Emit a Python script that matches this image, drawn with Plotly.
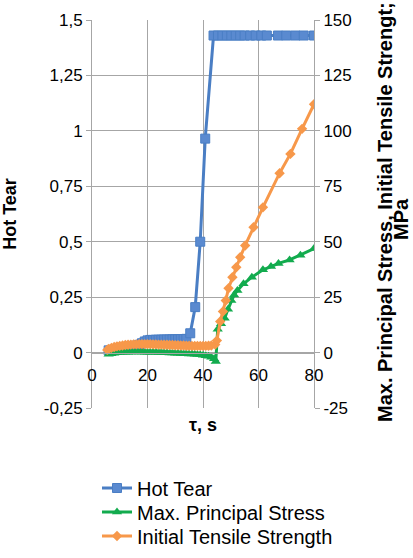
import plotly.graph_objects as go

# ---- data ----
ht_x = [6, 7, 8, 9, 10, 11, 12, 13, 14, 15, 16, 17, 18, 19, 20, 21, 22, 23, 24, 25,
        26, 27, 28, 29, 30, 31, 32, 33, 34, 35.4, 37.2, 39.0, 40.8, 43.8, 45.4, 47.0,
        48.6, 50.2, 51.8, 53.4, 55.0, 57.0, 59.0, 61.0, 63.0, 67.0, 70.0, 73.3, 76.3, 80.0]
ht_y = [0.01, 0.012, 0.014, 0.016, 0.018, 0.02, 0.022, 0.024, 0.026, 0.028, 0.031, 0.035,
        0.042, 0.05, 0.055, 0.057, 0.057, 0.058, 0.058, 0.058, 0.059, 0.059, 0.059, 0.06,
        0.06, 0.06, 0.061, 0.061, 0.062, 0.087, 0.205, 0.5, 0.965, 1.43, 1.43, 1.43, 1.43,
        1.43, 1.43, 1.43, 1.43, 1.43, 1.43, 1.43, 1.43, 1.43, 1.43, 1.43, 1.43, 1.43]

mps_x = [6, 7, 8, 9, 10, 11, 12, 13, 14, 15, 16, 17, 18, 19, 20, 21, 22, 23, 24, 25,
         26, 27, 28, 29, 30, 31, 32, 33, 34, 35, 36, 37, 38, 39, 40, 41, 42, 43, 44,
         44.6, 45.3, 46.5, 47.8, 49.0, 50.2, 51.2, 52.4, 54.6, 57.6, 61.6, 64.5, 67.2,
         71.2, 75.1, 80.0]
mps_y = [-0.8, -0.5, -0.3, -0.1, 0.0, 0.1, 0.2, 0.2, 0.3, 0.3, 0.3, 0.3, 0.3, 0.2, 0.2,
         0.2, 0.1, 0.1, 0.0, 0.0, -0.1, -0.1, -0.2, -0.2, -0.3, -0.3, -0.4, -0.5, -0.5,
         -0.6, -0.7, -0.8, -0.9, -1.0, -1.2, -1.4, -1.7, -2.1, -2.8,
         -4.0, 10.5, 13.0, 15.5, 19.5, 23.5, 26.0, 28.0, 31.0, 34.0, 37.3, 38.8, 40.2,
         41.8, 43.9, 46.9]

its_x = [5.5, 6, 7, 8, 9, 10, 11, 12, 13, 14, 15, 16, 17, 18, 19, 20, 21, 22, 23, 24,
         25, 26, 27, 28, 29, 30, 31, 32, 33, 34, 35, 36, 37, 38, 39, 40, 41, 42, 43,
         44.4, 45.0, 46.2, 47.2, 48.2, 49.2, 50.6, 52.0, 53.4, 55.2, 58.2, 61.6, 67.6,
         71.5, 75.7, 80.0]
its_y = [1.2, 1.6, 2.1, 2.5, 2.8, 3.0, 3.2, 3.4, 3.5, 3.6, 3.7, 3.7, 3.8, 3.8, 3.8, 3.8,
         3.8, 3.7, 3.7, 3.6, 3.6, 3.5, 3.5, 3.4, 3.4, 3.3, 3.3, 3.2, 3.2, 3.1, 3.1, 3.0,
         3.0, 3.0, 3.0, 3.0, 3.0, 3.1, 3.2,
         3.6, 5.4, 14.0, 18.5, 23.5, 29.0, 34.0, 38.5, 43.0, 48.3, 56.5, 65.5, 80.9,
         89.6, 100.9, 112.0]

x_ticks = [0, 20, 40, 60, 80]
y1_ticks = [-0.25, 0, 0.25, 0.5, 0.75, 1, 1.25, 1.5]
y1_labels = ["-0,25", "0", "0,25", "0,5", "0,75", "1", "1,25", "1,5"]
y2_ticks = [-25, 0, 25, 50, 75, 100, 125, 150]
y2_labels = ["-25", "0", "25", "50", "75", "100", "125", "150"]

FONT = "Liberation Sans, Arial, sans-serif"
GRID = "#a6a6a6"
BLUE = "#4a7ec4"
GREEN = "#12ab4e"
ORANGE = "#f7984a"

W, H = 413, 558
ML, MR, MT, MB = 92, 99, 20, 150
PW, PH = W - ML - MR, H - MT - MB


def px_x(page_x):
    return (page_x - ML) / PW


def px_y(page_y):
    return (H - MB - page_y) / PH


fig = go.Figure()
fig.add_trace(go.Scatter(
    x=ht_x, y=ht_y, name="Hot Tear", mode="lines+markers", yaxis="y",
    line=dict(color=BLUE, width=3), legend="legend",
    marker=dict(symbol="square", size=9, color="#5a8ad0", line=dict(color=BLUE, width=1))))
fig.add_trace(go.Scatter(
    x=mps_x, y=mps_y, name="Max. Principal Stress", mode="lines+markers", yaxis="y2",
    line=dict(color=GREEN, width=3), legend="legend2",
    marker=dict(symbol="triangle-up", size=9, color=GREEN)))
fig.add_trace(go.Scatter(
    x=its_x, y=its_y, name="Initial Tensile Strength", mode="lines+markers", yaxis="y2",
    line=dict(color=ORANGE, width=3), legend="legend3",
    marker=dict(symbol="diamond", size=8, color=ORANGE)))

leg = dict(x=px_x(97), xanchor="left", yanchor="middle",
           font=dict(size=20), bgcolor="rgba(0,0,0,0)")

fig.update_layout(
    width=W, height=H,
    margin=dict(l=ML, r=MR, t=MT, b=MB, autoexpand=False),
    paper_bgcolor="white", plot_bgcolor="white",
    font=dict(family=FONT, size=17, color="black"),
    showlegend=True, hovermode=False,
    legend=dict(leg, y=px_y(488)),
    legend2=dict(leg, y=px_y(512)),
    legend3=dict(leg, y=px_y(536)),
    xaxis=dict(range=[0, 80], tickvals=x_ticks, ticktext=[str(v) for v in x_ticks],
               anchor="free", position=0.25 / 1.75, automargin=False,
               showgrid=True, gridcolor=GRID, gridwidth=1,
               showline=True, linecolor=GRID, linewidth=1,
               ticks="outside", ticklen=7, tickcolor="rgba(0,0,0,0)",
               zeroline=False, tickfont=dict(size=17)),
    yaxis=dict(range=[-0.25, 1.5], tickvals=y1_ticks, ticktext=y1_labels, automargin=False,
               showgrid=True, gridcolor=GRID, gridwidth=1,
               showline=True, linecolor=GRID, linewidth=1,
               ticks="outside", ticklen=5, tickcolor=GRID, zeroline=False,
               title=dict(text="<b>Hot Tear</b>", font=dict(size=18), standoff=24)),
    yaxis2=dict(range=[-25, 150], tickvals=y2_ticks, ticktext=y2_labels,
                overlaying="y", side="right", anchor="x", automargin=False,
                showgrid=False, showline=True, linecolor=GRID, linewidth=1,
                ticks="outside", ticklen=5, tickcolor=GRID, zeroline=False),
    annotations=[
        dict(text="<b>τ, s</b>", x=0.5, y=px_y(425), xref="paper", yref="paper",
             xanchor="center", yanchor="middle", showarrow=False, font=dict(size=18)),
        dict(text="<b>Max. Principal Stress, Initial Tensile Strengt;</b>",
             x=px_x(385), y=px_y(212), xref="paper", yref="paper", textangle=-90,
             xanchor="center", yanchor="middle", showarrow=False, font=dict(size=20)),
        dict(text="<b>MPa</b>",
             x=px_x(401), y=px_y(196), xref="paper", yref="paper", textangle=-90,
             xanchor="center", yanchor="top", showarrow=False, font=dict(size=20)),
    ],
)

fig.write_html("out.html", config={"displayModeBar": False},
               post_script="document.body.style.margin='0';document.body.style.overflow='hidden';")
